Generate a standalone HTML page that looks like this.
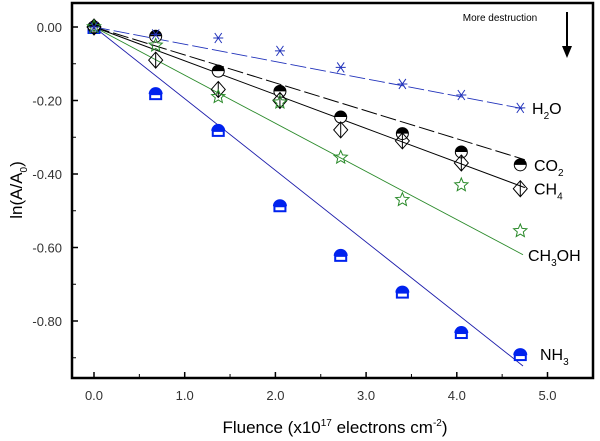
<!DOCTYPE html>
<html><head><meta charset="utf-8"><style>
body{margin:0;background:#fff;width:600px;height:441px;overflow:hidden}
svg{display:block;font-family:"Liberation Sans",sans-serif}
</style></head><body>
<svg id="c" width="600" height="441"></svg>
<script>
const xVals=[0,0.68,1.37,2.05,2.72,3.4,4.05,4.7];
const h2o=[0,-0.02,-0.03,-0.065,-0.11,-0.155,-0.185,-0.22];
const co2=[0,-0.025,-0.12,-0.175,-0.245,-0.29,-0.34,-0.375];
const ch4=[0,-0.09,-0.17,-0.2,-0.28,-0.31,-0.37,-0.44];
const ch3oh=[0,-0.05,-0.19,-0.205,-0.355,-0.47,-0.43,-0.555];
const nh3=[0,-0.18,-0.28,-0.485,-0.62,-0.72,-0.83,-0.89];
const slopes=[-0.047,-0.076,-0.092,-0.131,-0.195];
const xTicks=[0,1,2,3,4,5];
const xTickLabels=["0.0","1.0","2.0","3.0","4.0","5.0"];
const yTicks=[0,-0.2,-0.4,-0.6,-0.8];
const yTickLabels=["0.00","-0.20","-0.40","-0.60","-0.80"];
const X=v=>94+v*90.7, Y=v=>27-v*367.5;
const svg=document.getElementById('c'),NS='http://www.w3.org/2000/svg';
function mk(t,a,p){const e=document.createElementNS(NS,t);for(const k in a)e.setAttribute(k,a[k]);(p||svg).appendChild(e);return e;}
const f=mk('rect',{x:72,y:3,width:521,height:375,fill:'none',stroke:'#000','stroke-width':2.5});

xTicks.forEach((t,i)=>{mk('line',{x1:X(t),x2:X(t),y1:378,y2:372,stroke:'#000','stroke-width':1.5});
 mk('line',{x1:X(t+0.5),x2:X(t+0.5),y1:378,y2:374,stroke:'#000'});
 const l=mk('text',{x:X(t),y:400,'font-size':13,'text-anchor':'middle',fill:'#333'});l.textContent=xTickLabels[i];
 });
yTicks.forEach((t,i)=>{mk('line',{x1:72,x2:78,y1:Y(t),y2:Y(t),stroke:'#000','stroke-width':1.5});
 mk('line',{x1:72,x2:76,y1:Y(t-0.1),y2:Y(t-0.1),stroke:'#000'});
 const l=mk('text',{x:62,y:Y(t)+5,'font-size':13,'text-anchor':'end',fill:'#333'});l.textContent=yTickLabels[i];
 });
let xt=mk('text',{x:335,y:433,'font-size':17,'text-anchor':'middle'});
xt.innerHTML='Fluence (x10<tspan dy="-7" font-size="10">17</tspan><tspan dy="7"> electrons cm</tspan><tspan dy="-7" font-size="10">-2</tspan><tspan dy="7">)</tspan>';

let yt=mk('text',{transform:'translate(22,190) rotate(-90)','font-size':17,'text-anchor':'middle'});
yt.innerHTML='ln(A/A<tspan dy="5" font-size="10">0</tspan><tspan dy="-5">)</tspan>';

let md=mk('text',{x:500,y:21,'font-size':10,'text-anchor':'middle'});md.textContent='More destruction';

mk('line',{x1:567,x2:567,y1:12,y2:48,stroke:'#000','stroke-width':2});
mk('path',{d:'M562,46 L572,46 L567,58 Z',fill:'#000'});
const lineStyles=[['#2233bb','16,4',4.73,0.9],['#000','16,4',4.75,1],['#000','',4.75,1],['#2a8a2a','',4.73,0.9],['#1a1aaa','',4.73,0.9]];
const names=['h2o','co2','ch4','ch3oh','nh3'];
slopes.forEach((s,i)=>{const l=mk('line',{x1:X(0),y1:Y(0),x2:X(lineStyles[i][2]),y2:Y(s*lineStyles[i][2]),stroke:lineStyles[i][0],'stroke-width':lineStyles[i][3],'stroke-dasharray':lineStyles[i][1]});
 });
function star(cx,cy,r){let p='';for(let k=0;k<10;k++){const a=-Math.PI/2+k*Math.PI/5,rr=k%2?r*0.45:r;p+=(k?'L':'M')+(cx+rr*Math.cos(a)).toFixed(1)+','+(cy+rr*Math.sin(a)).toFixed(1);}return p+'Z';}
xVals.forEach((x,i)=>{
 let cx=X(x),cy;
 cy=Y(nh3[i]);let g=mk('g',{});
 mk('path',{d:`M${cx-7},${cy+1} A7,7 0 0 1 ${cx+7},${cy+1} Z`,fill:'#0022ee'},g);
 mk('rect',{x:cx-5.5,y:cy+1,width:11,height:5,fill:'#fff',stroke:'#0022ee','stroke-width':2},g);
 cy=Y(co2[i]);g=mk('g',{});
 mk('circle',{cx,cy,r:6,fill:'#fff',stroke:'#000'},g);
 mk('path',{d:`M${cx-6},${cy} A6,6 0 0 1 ${cx+6},${cy} Z`,fill:'#000'},g);
 cy=Y(ch4[i]);g=mk('g',{});
 mk('path',{d:`M${cx},${cy-8} L${cx+7},${cy} L${cx},${cy+8} L${cx-7},${cy} Z M${cx},${cy-8} L${cx},${cy+8}`,fill:'none',stroke:'#000'},g);
 cy=Y(ch3oh[i]);const s=mk('path',{d:star(cx,cy,7),fill:'none',stroke:'#2a8a2a'});
 
 cy=Y(h2o[i]);g=mk('g',{stroke:'#2233bb','stroke-width':1});
 mk('path',{d:`M${cx-5},${cy} L${cx+5},${cy} M${cx-3.5},${cy-5} L${cx+3.5},${cy+5} M${cx+3.5},${cy-5} L${cx-3.5},${cy+5}`},g);
});
const labs=[['H<tspan dy="5" font-size="10">2</tspan><tspan dy="-5">O</tspan>',532,Y(-0.22)+6],
['CO<tspan dy="5" font-size="10">2</tspan>',534,Y(-0.375)+6],
['CH<tspan dy="5" font-size="10">4</tspan>',534,Y(-0.44)+6],
['CH<tspan dy="5" font-size="10">3</tspan><tspan dy="-5">OH</tspan>',528,Y(-0.62)+6],
['NH<tspan dy="5" font-size="10">3</tspan>',540,Y(-0.89)+6]];
labs.forEach((l,i)=>{const t=mk('text',{x:l[1],y:l[2],'font-size':16});t.innerHTML=l[0];
 });
</script>
</body></html>
